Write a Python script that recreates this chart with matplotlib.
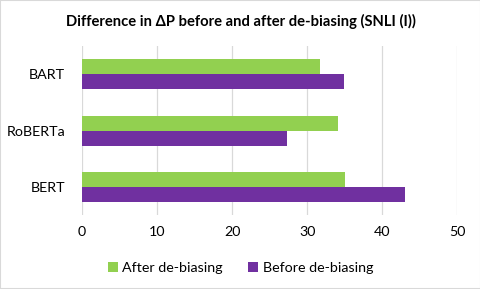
import matplotlib.pyplot as plt
import numpy as np
from matplotlib.patches import Rectangle

plt.rcParams['font.family'] = ['Lato', 'DejaVu Sans']

models = ['BERT', 'RoBERTa', 'BART']
after = [35.0, 34.1, 31.7]
before = [43.0, 27.3, 34.9]

green = '#92D050'
purple = '#7030A0'

fig = plt.figure(figsize=(4.81, 2.89), dpi=100)
fig.patches.append(Rectangle((0, 0), 1, 1, transform=fig.transFigure,
                             fill=False, edgecolor='#D9D9D9', lw=1.5))
ax = fig.add_axes([0.1705, 0.256, 0.7805, 0.584])

y = np.arange(len(models))
h = 0.265
ax.barh(y - h / 2, before, height=h, color=purple, label='Before de-biasing', zorder=3)
ax.barh(y + h / 2, after, height=h, color=green, label='After de-biasing', zorder=3)

ax.set_xlim(0, 50)
ax.set_ylim(-0.5, 2.5)
ax.set_xticks(range(0, 51, 10))
ax.set_yticks(y)
ax.set_yticklabels(models)
ax.grid(axis='x', color='#D9D9D9', lw=0.9, zorder=0)
for s in ax.spines.values():
    s.set_visible(False)
ax.tick_params(length=0, labelsize=10.3, colors='#000000', pad=8)
ax.tick_params(axis='y', pad=12)

fig.text(0.5, 0.925, 'Difference in \u0394P before and after de-biasing (SNLI (I))',
         ha='center', va='center', fontsize=10.6, fontweight='bold')

handles, labels = ax.get_legend_handles_labels()
fig.legend(handles[::-1], labels[::-1], loc='center', bbox_to_anchor=(0.5, 0.073),
           ncol=2, frameon=False, fontsize=10.3, handlelength=0.7, handleheight=0.7,
           handletextpad=0.3, columnspacing=1.8)

fig.savefig('out.png', dpi=100)
